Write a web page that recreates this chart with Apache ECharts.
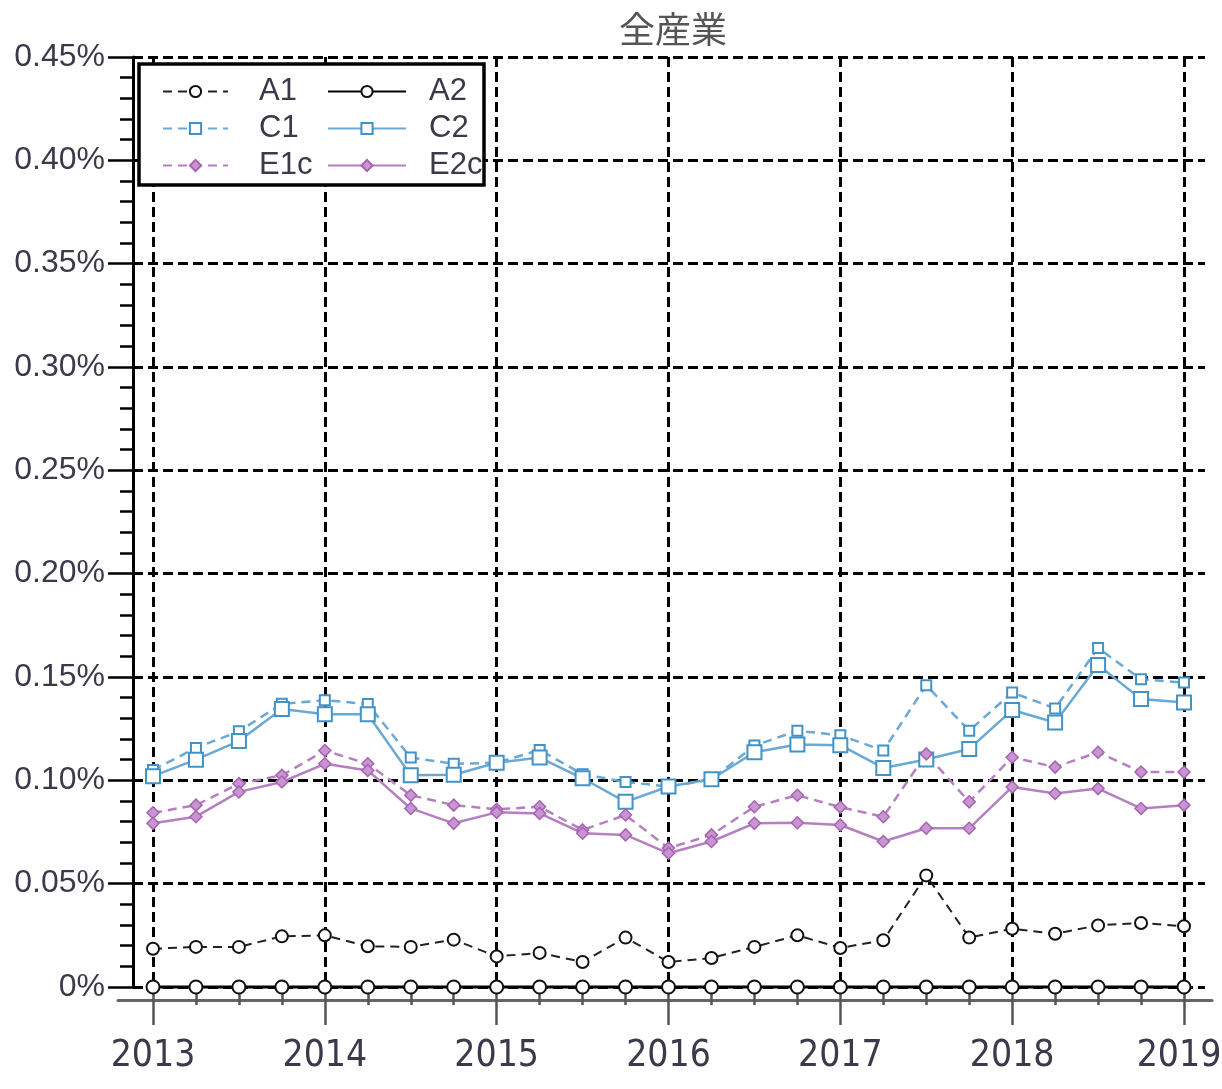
<!DOCTYPE html>
<html>
<head>
<meta charset="utf-8">
<title>全産業</title>
<script src="https://cdn.jsdelivr.net/npm/echarts@6/dist/echarts.min.js"></script>
<style>
  html, body { margin: 0; padding: 0; background: #fff; }
  #main { width: 1222px; height: 1089px; }
</style>
</head>
<body>
<div id="main"></div>
<script>
// 四半期 2013Q1 .. 2019Q1 (25点)
var quarters = ['2013Q1','2013Q2','2013Q3','2013Q4','2014Q1','2014Q2','2014Q3','2014Q4',
                '2015Q1','2015Q2','2015Q3','2015Q4','2016Q1','2016Q2','2016Q3','2016Q4',
                '2017Q1','2017Q2','2017Q3','2017Q4','2018Q1','2018Q2','2018Q3','2018Q4','2019Q1'];
var years = ['2013', '2014', '2015', '2016', '2017', '2018', '2019'];
var yTicks = ['0%', '0.05%', '0.10%', '0.15%', '0.20%', '0.25%', '0.30%', '0.35%', '0.40%', '0.45%'];

// 値 (%)
var a1 = [0.0185, 0.0194, 0.0194, 0.0245, 0.025, 0.0197, 0.0194, 0.0229, 0.0148, 0.0165, 0.0121, 0.0239,
          0.0121, 0.014, 0.0194, 0.025, 0.0189, 0.0226, 0.054, 0.0239, 0.0282, 0.0258, 0.0298, 0.031, 0.0294];
var a2 = [0, 0, 0, 0, 0, 0, 0, 0, 0, 0, 0, 0, 0, 0, 0, 0, 0, 0, 0, 0, 0, 0, 0, 0, 0];
var c1 = [0.105, 0.1157, 0.1237, 0.137, 0.1388, 0.1369, 0.111, 0.108, 0.1085, 0.1147, 0.103, 0.0992,
          0.097, 0.1005, 0.1168, 0.124, 0.1218, 0.1144, 0.146, 0.124, 0.1425, 0.1348, 0.164, 0.1489, 0.1473];
var c2 = [0.102, 0.110, 0.119, 0.1345, 0.132, 0.132, 0.1024, 0.1027, 0.1085, 0.111, 0.101, 0.0896,
          0.097, 0.1005, 0.1136, 0.1173, 0.117, 0.106, 0.1101, 0.1152, 0.134, 0.128, 0.1558, 0.1393, 0.1377];
var e1c = [0.0843, 0.088, 0.0984, 0.1024, 0.1144, 0.108, 0.0928, 0.088, 0.086, 0.0872, 0.076, 0.0832,
           0.0672, 0.0736, 0.0872, 0.0928, 0.087, 0.0824, 0.1128, 0.0896, 0.1112, 0.1064, 0.1136, 0.104, 0.104];
var e2c = [0.0792, 0.0824, 0.0944, 0.0992, 0.108, 0.1048, 0.0864, 0.0792, 0.0845, 0.084, 0.0744, 0.0736,
           0.0647, 0.0704, 0.0792, 0.0795, 0.0784, 0.0704, 0.0768, 0.0768, 0.0968, 0.0936, 0.096, 0.0864, 0.088];

var blue = '#4292c6';
var blueLine = '#6aa8d6';
var purple = '#a862b4';
var purpleLine = '#b67fc1';

function toPoints(arr) {
    return arr.map(function (v, i) { return [i, v]; });
}

var chart = echarts.init(document.getElementById('main'));

function makeSeries(name, data, color, lineColor, dashed, symbol, size, lineWidth, borderWidth, fill) {
    return {
        name: name,
        type: 'line',
        xAxisIndex: 0,
        yAxisIndex: 0,
        data: toPoints(data),
        symbol: symbol,
        symbolSize: size,
        clip: false,
        z: 5,
        lineStyle: {
            color: lineColor,
            width: lineWidth,
            type: dashed ? [9, 6] : 'solid'
        },
        itemStyle: {
            color: fill || color,
            borderColor: color,
            borderWidth: borderWidth
        },
        emphasis: { disabled: true }
    };
}

var option = {
    animation: false,
    backgroundColor: '#fff',
    title: {
        text: '全産業',
        left: 668,
        top: 6,
        textAlign: 'center',
        textStyle: {
            fontFamily: 'Noto Sans CJK JP',
            fontSize: 36,
            fontWeight: 'normal',
            color: '#555'
        }
    },
    grid: [
        { left: 153, right: 38, top: 57, bottom: 102, outerBoundsMode: 'none' },
        { left: 133, right: 17, top: 57, bottom: 102, outerBoundsMode: 'none' },
        { left: 118, right: 10, top: 57, bottom: 89, outerBoundsMode: 'none' }
    ],
    xAxis: [
        {
            gridIndex: 0,
            type: 'value',
            min: 0,
            max: 24,
            interval: 4,
            offset: 13,
            axisLine: { show: false },
            axisTick: { show: true, length: 38, lineStyle: { color: '#555', width: 2.5 } },
            minorTick: { show: true, splitNumber: 4, length: 18, lineStyle: { color: '#555', width: 2.5 } },
            splitLine: { show: true, lineStyle: { color: '#000', width: 3, type: [10, 5] } },
            minorSplitLine: { show: false },
            axisLabel: {
                margin: 38,
                fontFamily: 'Liberation Sans Narrow, DejaVu Sans Condensed, Arial Narrow, sans-serif',
                fontSize: 37,
                color: '#3a3a4a',
                formatter: function (v) {
                    var i = Math.round(v / 4);
                    return i === years.length - 1 ? '{last|' + years[i] + '}' : years[i];
                },
                rich: {
                    last: {
                        fontFamily: 'Liberation Sans Narrow, DejaVu Sans Condensed, Arial Narrow, sans-serif',
                        fontSize: 37,
                        color: '#3a3a4a',
                        padding: [0, 10, 0, 0]
                    }
                }
            }
        },
        {
            gridIndex: 1,
            type: 'value',
            min: 0,
            max: 1,
            show: false
        },
        {
            gridIndex: 2,
            type: 'value',
            min: 0,
            max: 1,
            axisLine: { show: true, lineStyle: { color: '#666', width: 3 } },
            axisTick: { show: false },
            axisLabel: { show: false },
            splitLine: { show: false }
        }
    ],
    yAxis: [
        {
            gridIndex: 0,
            type: 'value',
            min: 0,
            max: 0.45,
            interval: 0.05,
            axisLine: { show: false },
            axisTick: { show: false },
            axisLabel: { show: false },
            splitLine: { show: false }
        },
        {
            gridIndex: 1,
            type: 'value',
            min: 0,
            max: 0.45,
            interval: 0.05,
            axisLine: { show: true, lineStyle: { color: '#000', width: 3 } },
            axisTick: { show: true, length: 25, lineStyle: { color: '#000', width: 2.5 } },
            minorTick: { show: true, splitNumber: 5, length: 13, lineStyle: { color: '#000', width: 2.5 } },
            splitLine: { show: true, lineStyle: { color: '#000', width: 3, type: [10, 5] } },
            axisLabel: {
                margin: 28,
                fontFamily: 'Liberation Sans, Arial, sans-serif',
                fontSize: 32,
                color: '#3a3a4a',
                formatter: function (v) { return yTicks[Math.round(v / 0.05)]; }
            }
        },
        {
            gridIndex: 2,
            type: 'value',
            show: false
        }
    ],
    legend: [
        {
            data: ['A1', 'C1', 'E1c'],
            orient: 'vertical',
            left: 157,
            top: 71,
            itemWidth: 65,
            itemHeight: 14,
            itemGap: 6,
            z: 20,
            selectedMode: false,
            textStyle: {
                fontFamily: 'Liberation Sans, Arial, sans-serif',
                fontSize: 31,
                color: '#3a3a4a',
                padding: [0, 0, 0, 26]
            }
        },
        {
            data: ['A2', 'C2', 'E2c'],
            orient: 'vertical',
            left: 322,
            top: 71,
            itemWidth: 78,
            itemHeight: 14,
            itemGap: 6,
            z: 20,
            selectedMode: false,
            textStyle: {
                fontFamily: 'Liberation Sans, Arial, sans-serif',
                fontSize: 31,
                color: '#3a3a4a',
                padding: [0, 0, 0, 18]
            }
        }
    ],
    graphic: [
        {
            type: 'rect',
            z: 10,
            shape: { x: 139, y: 64, width: 345, height: 121 },
            style: { fill: '#fff', stroke: '#000', lineWidth: 3.5 }
        }
    ],
    series: [
        makeSeries('A1', a1, '#111', '#222', true, 'emptyCircle', 12, 2, 3),
        makeSeries('A2', a2, '#111', '#000', false, 'emptyCircle', 13, 3, 3.5),
        makeSeries('C1', c1, blue, blueLine, true, 'emptyRect', 10, 2.5, 2.5),
        makeSeries('C2', c2, blue, blueLine, false, 'emptyRect', 14, 2.5, 3),
        makeSeries('E1c', e1c, purple, purpleLine, true, 'diamond', 12, 2.5, 1.5, '#c795d0'),
        makeSeries('E2c', e2c, purple, purpleLine, false, 'diamond', 12, 2.5, 1.5, '#c795d0')
    ]
};

chart.setOption(option);
</script>
</body>
</html>
